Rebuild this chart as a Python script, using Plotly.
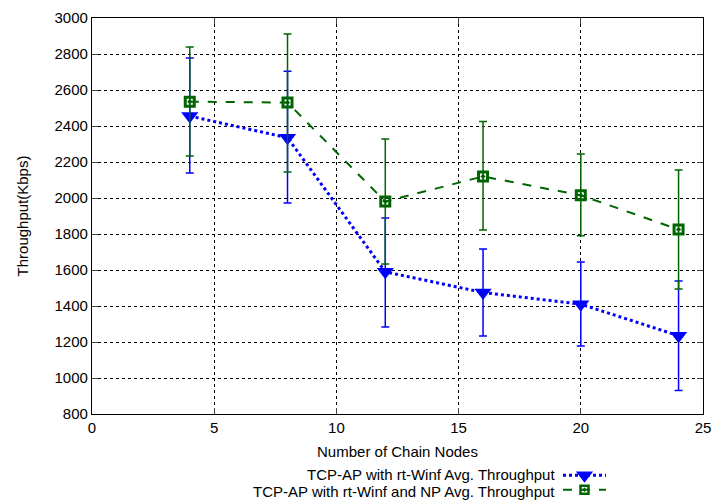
import plotly.graph_objects as go

nodes = [4, 8, 12, 16, 20, 24]

blue_name = "TCP-AP with rt-Winf Avg. Throughput"
blue_vals = [2455, 2335, 1590, 1475, 1410, 1235]
blue_hi = [2778, 2704, 1889, 1717, 1644, 1539]
blue_lo = [2139, 1972, 1283, 1233, 1178, 930]

green_name = "TCP-AP with rt-Winf and NP Avg. Throughput"
green_vals = [2535, 2530, 1980, 2120, 2015, 1825]
green_hi = [2839, 2911, 2328, 2425, 2244, 2156]
green_lo = [2233, 2144, 1633, 1822, 1790, 1495]

x_ticks = [0, 5, 10, 15, 20, 25]
y_ticks = [800, 1000, 1200, 1400, 1600, 1800, 2000, 2200, 2400, 2600, 2800, 3000]

BLUE = "#0000ff"
GREEN = "#006400"
FONT = "Liberation Sans, Arial, sans-serif"
FS = 15

fig = go.Figure()

fig.add_trace(go.Scatter(
    x=nodes, y=blue_vals, mode="lines+markers", name=blue_name,
    line=dict(color=BLUE, width=3, dash="dot"),
    marker=dict(symbol="triangle-down", size=15, color=BLUE),
    error_y=dict(type="data", symmetric=False,
                 array=[h - v for h, v in zip(blue_hi, blue_vals)],
                 arrayminus=[v - l for l, v in zip(blue_lo, blue_vals)],
                 color=BLUE, thickness=1.5, width=4),
    showlegend=False,
))
fig.add_trace(go.Scatter(
    x=nodes, y=green_vals, mode="lines+markers", name=green_name,
    line=dict(color=GREEN, width=2, dash="dash"),
    marker=dict(symbol="square-open-dot", size=9, color=GREEN, line=dict(width=3, color=GREEN)),
    error_y=dict(type="data", symmetric=False,
                 array=[h - v for h, v in zip(green_hi, green_vals)],
                 arrayminus=[v - l for l, v in zip(green_lo, green_vals)],
                 color=GREEN, thickness=1.5, width=4),
    showlegend=False,
))

# legend samples on an auxiliary axis placed below the plot
leg_x = [0, 0.5, 1]
fig.add_trace(go.Scatter(
    x=leg_x, y=[1, 1, 1], xaxis="x2", yaxis="y2", mode="lines",
    line=dict(color=BLUE, width=3, dash="dot"), showlegend=False, hoverinfo="skip"))
fig.add_trace(go.Scatter(
    x=[0.5], y=[1], xaxis="x2", yaxis="y2", mode="markers",
    marker=dict(symbol="triangle-down", size=15, color=BLUE), showlegend=False, hoverinfo="skip"))
fig.add_trace(go.Scatter(
    x=leg_x, y=[0, 0, 0], xaxis="x2", yaxis="y2", mode="lines",
    line=dict(color=GREEN, width=2, dash="dash"), showlegend=False, hoverinfo="skip"))
fig.add_trace(go.Scatter(
    x=[0.5], y=[0], xaxis="x2", yaxis="y2", mode="markers",
    marker=dict(symbol="square-open-dot", size=8, color=GREEN, line=dict(width=2.5, color=GREEN)),
    showlegend=False, hoverinfo="skip"))

W, H = 712, 500
ml, mr, mt, mb = 92, 9, 18, 2
pw, ph = W - ml - mr, H - mt - mb

def px_to_paper_x(px):
    return (px - ml) / pw

def px_to_paper_y(py):
    return (H - mb - py) / ph

fig.update_layout(
    width=W, height=H,
    margin=dict(l=ml, r=mr, t=mt, b=mb),
    paper_bgcolor="white", plot_bgcolor="white",
    font=dict(family=FONT, size=FS, color="black"),
    xaxis=dict(range=[0, 25], tickvals=x_ticks, ticks="inside", ticklen=6,
               mirror="allticks", showline=True, linecolor="black", linewidth=1.2,
               showgrid=True, gridcolor="black", griddash="dot", gridwidth=1,
               zeroline=False, automargin=False, tickfont=dict(size=FS),
               title=dict(text="Number of Chain Nodes", standoff=11,
                          font=dict(family=FONT, size=FS))),
    yaxis=dict(range=[800, 3000], tickvals=y_ticks, ticks="inside", ticklen=6,
               domain=[px_to_paper_y(414), 1],
               mirror="allticks", showline=True, linecolor="black", linewidth=1.2,
               showgrid=True, gridcolor="black", griddash="dot", gridwidth=1,
               zeroline=False, automargin=False, tickfont=dict(size=FS),
               title=dict(text="Throughput(Kbps)", standoff=22,
                          font=dict(family=FONT, size=FS))),
    xaxis2=dict(domain=[px_to_paper_x(563), px_to_paper_x(606)], range=[0, 1],
                anchor="y2", visible=False, fixedrange=True),
    yaxis2=dict(domain=[px_to_paper_y(497), px_to_paper_y(468)], range=[-0.5, 1.5],
                anchor="x2", visible=False, fixedrange=True),
    annotations=[
        dict(text=blue_name, xref="paper", yref="paper",
             x=px_to_paper_x(557), y=px_to_paper_y(474),
             xanchor="right", yanchor="middle", showarrow=False,
             font=dict(family=FONT, size=FS)),
        dict(text=green_name, xref="paper", yref="paper",
             x=px_to_paper_x(557), y=px_to_paper_y(491),
             xanchor="right", yanchor="middle", showarrow=False,
             font=dict(family=FONT, size=FS)),
    ],
)

fig.write_html("out.html", config={"displayModeBar": False},
               post_script="document.body.style.margin='0';document.body.style.padding='0';")
